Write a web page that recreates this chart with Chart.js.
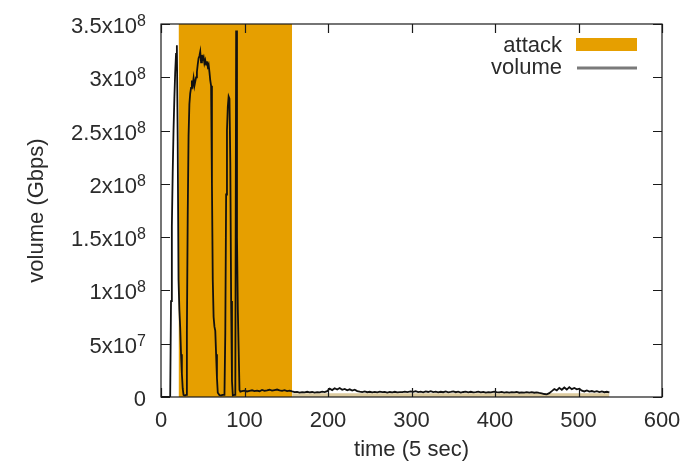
<!DOCTYPE html>
<html>
<head>
<meta charset="utf-8">
<script src="https://cdn.jsdelivr.net/npm/chart.js@4/dist/chart.umd.min.js"></script>
<style>
  html, body { margin: 0; padding: 0; background: #fff; }
  #chart { display: block; }
</style>
</head>
<body>
<canvas id="chart" width="682" height="463"></canvas>
<script>
// time index (units of 5 sec) and traffic volume
const timeSteps = [
  0, 11, 12, 13, 14, 15, 16, 17, 18, 19, 20, 21, 22, 23, 24, 25, 26, 27, 28, 29, 30,
  31, 32, 33, 34, 35, 36, 37, 38, 39, 40, 41, 42, 43, 44, 45, 46, 47, 48, 49, 50,
  51, 52, 53, 54, 55, 56, 57, 58, 59, 60, 61, 62, 63, 64, 65, 66, 67, 68, 70, 72, 74, 76,
  77, 78, 79, 80, 81, 82, 83, 84, 85, 86, 88, 89, 90, 91, 92, 93, 94, 95,
  97, 100, 103, 106, 109, 112, 115, 118, 121, 124, 127, 130, 133, 136, 139, 142, 145, 148, 151, 154, 157,
  160, 163, 166, 169, 172, 175, 178, 181, 184, 187, 190, 193, 196, 199,
  202, 205, 208, 211, 214, 217, 220, 223, 226, 229, 232, 235, 238,
  241, 244, 247, 250, 253, 256, 259, 262, 265, 268, 271, 274, 277, 280, 283, 286, 289, 292, 295, 299,
  302, 305, 308, 311, 314, 317, 320, 323, 326, 329, 332, 335, 338, 341, 344, 347, 350, 353, 356, 359,
  362, 365, 368, 371, 374, 377, 380, 383, 386, 389, 392, 395, 399,
  402, 405, 408, 411, 414, 417, 420, 423, 426, 429, 432, 435, 438, 441, 444, 447, 450, 453, 456, 459, 462, 465,
  468, 471, 474, 477, 480, 483, 486, 489, 492, 495, 498, 501,
  504, 507, 510, 513, 516, 519, 522, 525, 528, 531, 534, 537
];
const volumeGbps = [
  0, 0, 9.0e7, 1.6e8, 2.1e8, 2.5e8, 2.8e8, 3.05e8, 3.22e8, 3.30e8, 2.4e8, 1.1e8, 8.2e7, 6.5e7, 4.0e7, 2.2e7, 8.0e6, 2.0e6, 1.5e6, 1.5e6, 2.0e6,
  6.0e7, 1.7e8, 2.45e8, 2.75e8, 2.85e8, 2.90e8, 2.97e8, 2.93e8, 2.99e8, 2.92e8, 2.96e8, 3.00e8, 3.05e8, 3.12e8, 3.18e8, 3.20e8, 3.24e8, 3.14e8, 3.21e8, 3.17e8,
  3.19e8, 3.13e8, 3.16e8, 3.12e8, 3.15e8, 3.10e8, 3.12e8, 3.05e8, 2.97e8, 2.92e8, 2.0e8, 1.1e8, 7.5e7, 6.6e7, 6.2e7, 4.0e7, 1.8e7, 4.0e6, 1.8e6, 1.5e6, 2.0e6, 2.0e6,
  6.0e7, 1.9e8, 2.5e8, 2.72e8, 2.82e8, 2.80e8, 2.2e8, 9.0e7, 1.5e7, 1.5e6, 2.0e6, 2.0e6, 3.44e8, 1.5e8, 8.2e7, 4.5e7, 6.5e6, 5.0e6,
  5.5e6, 6.0e6, 5.2e6, 5.8e6, 6.3e6, 5.5e6, 6.0e6, 5.4e6, 6.6e6, 5.7e6, 6.2e6, 6.8e6, 6.0e6, 6.5e6, 7.0e6, 6.2e6, 5.8e6, 6.4e6, 5.6e6, 6.0e6, 5.2e6,
  4.5e6, 4.8e6, 4.2e6, 4.6e6, 4.4e6, 4.9e6, 4.3e6, 4.7e6, 4.2e6, 4.6e6, 4.4e6, 5.0e6, 4.6e6, 5.5e6,
  7.8e6, 6.5e6, 8.2e6, 7.0e6, 8.4e6, 6.8e6, 7.6e6, 6.3e6, 7.2e6, 6.0e6, 6.8e6, 5.5e6, 5.0e6,
  4.6e6, 5.2e6, 4.5e6, 4.9e6, 4.3e6, 4.8e6, 4.4e6, 5.0e6, 4.5e6, 4.8e6, 4.2e6, 4.7e6, 4.4e6, 4.9e6, 4.3e6, 4.6e6, 4.5e6, 5.0e6, 4.6e6, 5.2e6,
  4.8e6, 5.4e6, 4.6e6, 5.1e6, 4.4e6, 5.3e6, 4.7e6, 5.5e6, 4.6e6, 5.0e6, 4.3e6, 4.9e6, 4.5e6, 5.2e6, 4.4e6, 4.8e6, 5.3e6, 4.5e6, 5.0e6, 4.2e6,
  4.7e6, 5.1e6, 4.4e6, 4.9e6, 4.3e6, 4.6e6, 5.0e6, 4.4e6, 4.8e6, 4.2e6, 4.6e6, 4.4e6, 5.0e6,
  4.6e6, 4.3e6, 4.8e6, 4.2e6, 4.5e6, 4.1e6, 4.6e6, 4.3e6, 4.7e6, 4.0e6, 4.4e6, 4.2e6, 4.6e6, 4.1e6, 4.5e6, 4.0e6, 4.3e6, 3.8e6, 3.4e6, 2.8e6, 2.5e6, 3.6e6,
  5.5e6, 7.5e6, 6.2e6, 8.6e6, 6.8e6, 8.9e6, 7.0e6, 9.2e6, 7.4e6, 8.5e6, 7.2e6, 7.8e6,
  6.0e6, 5.2e6, 6.1e6, 5.0e6, 5.6e6, 4.8e6, 5.4e6, 4.6e6, 5.2e6, 4.5e6, 4.9e6, 4.4e6
];
const attackWindow = [21, 157];
const bandRange = [157, 537];
const bandLevel = 3.5e6;

const xTicks = [0, 100, 200, 300, 400, 500, 600];
const yTicks = [0, 5e7, 1e8, 1.5e8, 2e8, 2.5e8, 3e8, 3.5e8];
const yTickLabels = ["0", "5x10^7", "1x10^8", "1.5x10^8", "2x10^8", "2.5x10^8", "3x10^8", "3.5x10^8"];
const xMax = 600;
const yMax = 3.5e8;

const FONT = '"Liberation Sans", Arial, sans-serif';
const TEXT = "#2b2b2b";

// gnuplot-like frame, inward ticks, labels and key
const gnuplotFrame = {
  id: "gnuplotFrame",
  afterDatasetsDraw(chart) {
    const { ctx, chartArea: a, scales: { x, y } } = chart;
    const tl = 9;
    ctx.save();
    ctx.strokeStyle = "#1a1a1a";
    ctx.lineWidth = 1.2;
    ctx.beginPath();
    xTicks.forEach(v => {
      const px = Math.round(x.getPixelForValue(v)) + 0.5;
      ctx.moveTo(px, a.bottom); ctx.lineTo(px, a.bottom - tl);
      ctx.moveTo(px, a.top); ctx.lineTo(px, a.top + tl);
    });
    yTicks.forEach(v => {
      const py = Math.round(y.getPixelForValue(v)) + 0.5;
      ctx.moveTo(a.left, py); ctx.lineTo(a.left + tl, py);
      ctx.moveTo(a.right, py); ctx.lineTo(a.right - tl, py);
    });
    ctx.stroke();
    ctx.strokeRect(a.left, a.top, a.right - a.left, a.bottom - a.top);

    ctx.fillStyle = TEXT;
    // x tick labels
    ctx.font = "22px " + FONT;
    ctx.textAlign = "center";
    ctx.textBaseline = "alphabetic";
    xTicks.forEach(v => ctx.fillText(String(v), x.getPixelForValue(v), a.bottom + 30));

    // y tick labels with superscript exponent
    yTicks.forEach((v, i) => {
      const [base, exp] = yTickLabels[i].split("^");
      const py = y.getPixelForValue(v) + 9;
      let right = a.left - 15;
      ctx.textAlign = "right";
      if (exp) {
        ctx.font = "16px " + FONT;
        ctx.fillText(exp, right, py - 7);
        right -= ctx.measureText(exp).width;
      }
      ctx.font = "22px " + FONT;
      ctx.fillText(base, right, py);
    });

    // axis titles
    ctx.font = "22px " + FONT;
    ctx.textAlign = "center";
    ctx.fillText("time (5 sec)", (a.left + a.right) / 2, a.bottom + 59);
    ctx.save();
    ctx.translate(43, (a.top + a.bottom) / 2);
    ctx.rotate(-Math.PI / 2);
    ctx.fillText("volume (Gbps)", 0, 0);
    ctx.restore();

    // key (top right)
    const ds = chart.data.datasets;
    ctx.textAlign = "right";
    ctx.textBaseline = "middle";
    ctx.fillText(ds[2].label, 562, 46);
    ctx.fillText(ds[0].label, 562, 68);
    ctx.fillStyle = ds[2].backgroundColor;
    ctx.fillRect(576, 38, 61, 13);
    ctx.strokeStyle = "#7a7a7a";
    ctx.lineWidth = 3;
    ctx.beginPath();
    ctx.moveTo(577, 68); ctx.lineTo(637, 68);
    ctx.stroke();
    ctx.restore();
  }
};

new Chart(document.getElementById("chart"), {
  type: "line",
  data: {
    datasets: [
      {
        label: "volume",
        data: timeSteps.map((t, i) => ({ x: t, y: volumeGbps[i] })),
        borderColor: "#111111",
        borderWidth: 1.8,
        pointRadius: 0,
        fill: false,
        order: 1
      },
      {
        label: "band",
        data: bandRange.map(t => ({ x: t, y: bandLevel })),
        borderWidth: 0,
        backgroundColor: "#dccb9f",
        fill: "origin",
        pointRadius: 0,
        order: 2
      },
      {
        label: "attack",
        data: attackWindow.map(t => ({ x: t, y: yMax })),
        borderWidth: 0,
        backgroundColor: "#e69f00",
        fill: "origin",
        pointRadius: 0,
        order: 3
      }
    ]
  },
  options: {
    responsive: false,
    animation: false,
    layout: { padding: { left: 161, right: 20, top: 24, bottom: 66 } },
    scales: {
      x: { type: "linear", min: 0, max: xMax, display: false },
      y: { min: 0, max: yMax, display: false }
    },
    plugins: { legend: { display: false }, tooltip: { enabled: false } },
    elements: { line: { tension: 0 } }
  },
  plugins: [gnuplotFrame]
});
</script>
</body>
</html>
